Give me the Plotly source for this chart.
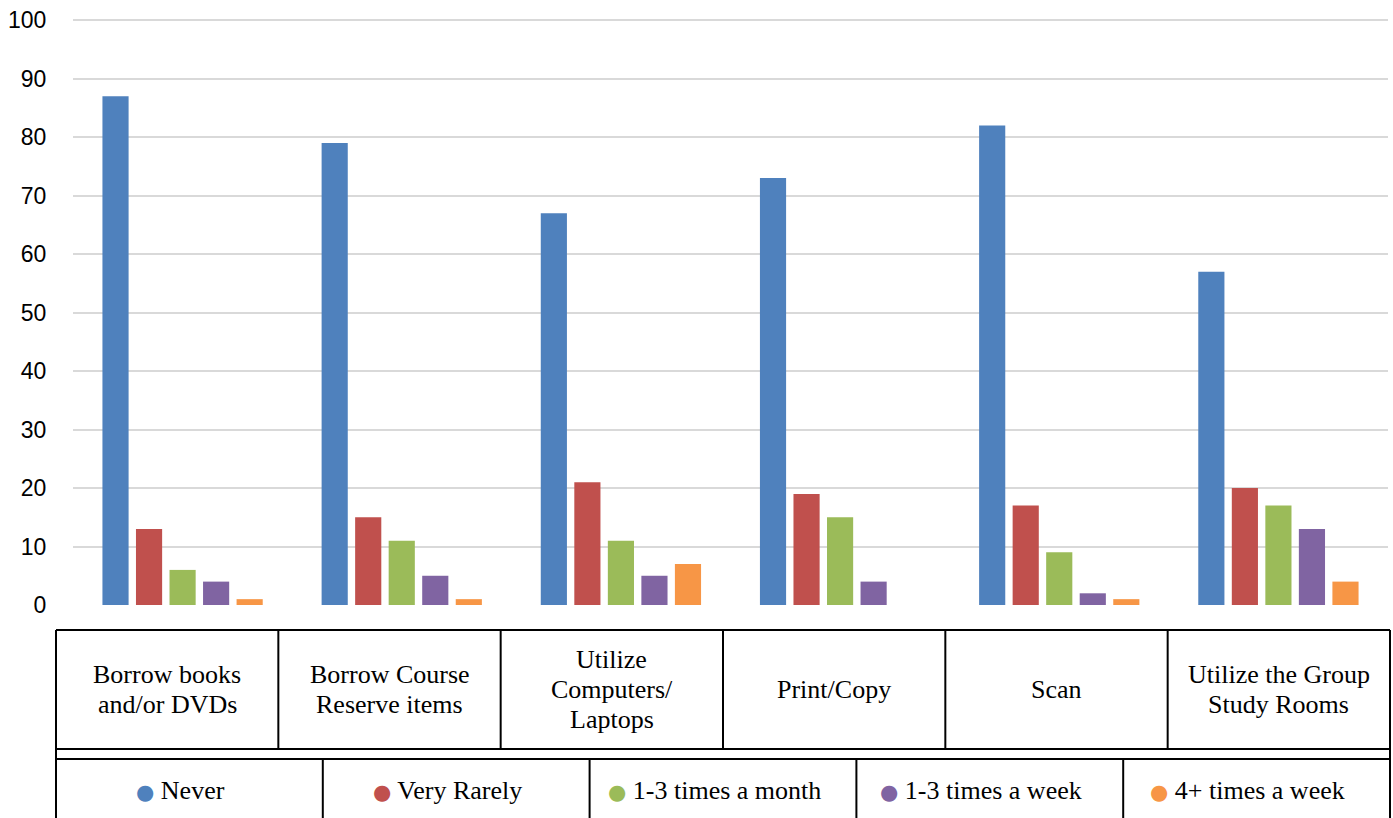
import plotly.graph_objects as go

# Library service usage survey
categories = [
    "Borrow books<br>and/or DVDs",
    "Borrow Course<br>Reserve items",
    "Utilize<br>Computers/<br>Laptops",
    "Print/Copy",
    "Scan",
    "Utilize the Group<br>Study Rooms",
]
series_names = ["Never", "Very Rarely", "1-3 times a month", "1-3 times a week", "4+ times a week"]
never = [87, 79, 67, 73, 82, 57]
very_rarely = [13, 15, 21, 19, 17, 20]
monthly = [6, 11, 11, 15, 9, 17]
weekly = [4, 5, 5, 4, 2, 13]
frequent = [1, 1, 7, 0, 1, 4]
y_ticks = [0, 10, 20, 30, 40, 50, 60, 70, 80, 90, 100]

colors = ["#4F81BD", "#C0504D", "#9BBB59", "#8064A2", "#F79646"]
series_values = [never, very_rarely, monthly, weekly, frequent]

W, H = 1393, 818
Y_TOP = 100.2
L, R, B = 73, 5, 213
T = 20 - (Y_TOP - 100) * (605 - 20) / 100
PW, PH = W - L - R, H - T - B

def px_x(p):
    return (p - L) / PW

def px_y(p):
    return (H - B - p) / PH

fig = go.Figure()
xs = list(range(len(categories)))
for name, vals, col in zip(series_names, series_values, colors):
    fig.add_trace(go.Bar(x=xs, y=vals, name=name, marker_color=col,
                         marker_line_width=0, showlegend=False))

shapes = []
line = dict(color="black", width=2)

def seg(x0, y0, x1, y1):
    shapes.append(dict(type="line", xref="paper", yref="paper",
                       x0=px_x(x0), y0=px_y(y0), x1=px_x(x1), y1=px_y(y1),
                       line=line, layer="above"))

# Category label table
tbl_left, tbl_right = 56, 1390
row1_top, row1_bot, row2_top, row2_bot = 630, 749, 759, 830
seg(tbl_left, row1_top, tbl_right, row1_top)
seg(tbl_left, row1_bot, tbl_right, row1_bot)
seg(tbl_left, row2_top, tbl_right, row2_top)
seg(tbl_left, row1_top, tbl_left, row2_bot)
seg(tbl_right, row1_top, tbl_right, row2_bot)

n_cat = len(categories)
cw = (tbl_right - tbl_left) / n_cat
for i in range(1, n_cat):
    xv = tbl_left + i * cw
    seg(xv, row1_top, xv, row1_bot)

n_ser = len(series_names)
lw = (tbl_right - tbl_left) / n_ser
for i in range(1, n_ser):
    xv = tbl_left + i * lw
    seg(xv, row2_top, xv, row2_bot)

annotations = []
serif = dict(family="Liberation Serif, Times New Roman, serif", size=26, color="black")
line_step = 30
row1_mid = (row1_top + row1_bot) / 2
for i, cat in enumerate(categories):
    cx = tbl_left + (i + 0.5) * cw
    parts = cat.split("<br>")
    for j, part in enumerate(parts):
        cy = row1_mid + (j - (len(parts) - 1) / 2) * line_step
        annotations.append(dict(xref="paper", yref="paper", x=px_x(cx), y=px_y(cy),
                                text=part, showarrow=False, xanchor="center", yanchor="middle",
                                font=serif, align="center"))

# Legend row: coloured dot + series name in each cell
for i, (name, col) in enumerate(zip(series_names, colors)):
    cx = tbl_left + (i + 0.5) * lw - 9
    txt = f'<span style="color:{col};font-size:21px;font-family:DejaVu Sans">●</span> {name}'
    annotations.append(dict(xref="paper", yref="paper", x=px_x(cx), y=px_y(791),
                            text=txt, showarrow=False, xanchor="center", yanchor="middle",
                            font=serif))

fig.update_layout(
    width=W, height=H,
    margin=dict(l=L, r=R, t=T, b=B),
    paper_bgcolor="white", plot_bgcolor="white",
    barmode="group", bargap=0.235, bargroupgap=0.22,
    showlegend=False,
    shapes=shapes, annotations=annotations,
    xaxis=dict(range=[-0.5, n_cat - 0.5], showticklabels=False, showgrid=False,
               zeroline=False, showline=False, fixedrange=True),
    yaxis=dict(range=[0, Y_TOP], tickvals=y_ticks, showgrid=True, gridcolor="#D9D9D9",
               gridwidth=1.5, zeroline=False, showline=False,
               ticks="outside", ticklen=21, tickcolor="rgba(0,0,0,0)",
               tickfont=dict(family="Liberation Sans, Arial, sans-serif", size=23, color="black")),
)

fig.write_html("out.html")
